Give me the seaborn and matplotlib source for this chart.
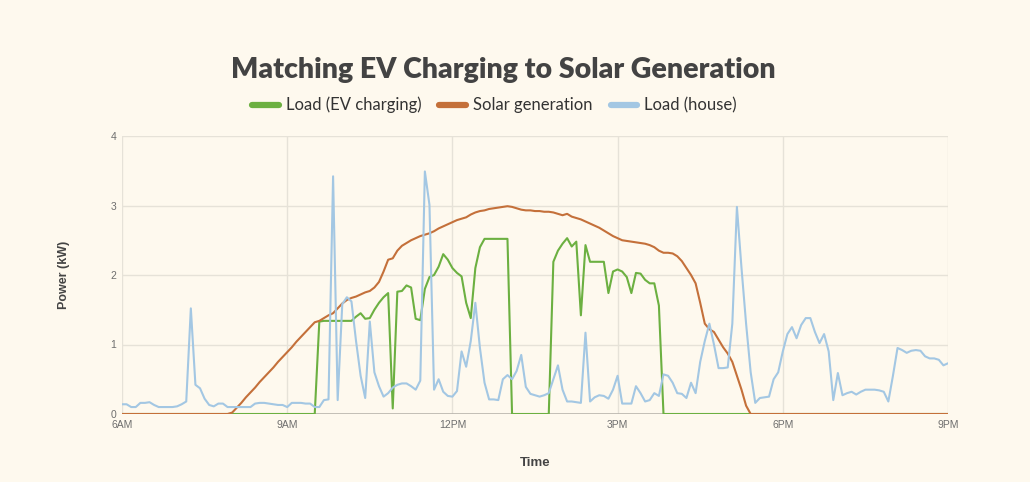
"""
EV charging vs solar generation - daily profile
"""
import numpy as np
import pandas as pd
import matplotlib
matplotlib.use('Agg')
import matplotlib.pyplot as plt
import seaborn as sns
from matplotlib.lines import Line2D

# readings every 5 minutes, 6AM -> 9PM (181 points)
hours = 6 + np.arange(181) * 5 / 60

# Load (EV charging), kW - one row per hour
ev_load = (
    [0.0] * 12                                                                   # 6AM
    + [0.0] * 12                                                                 # 7AM
    + [0.0] * 12                                                                 # 8AM
    + [0, 0, 0, 0, 0, 0, 0, 1.33, 1.34, 1.34, 1.34, 1.34]                         # 9AM
    + [1.34, 1.34, 1.34, 1.40, 1.45, 1.37, 1.38, 1.50, 1.60, 1.68, 1.74, 0.08]    # 10AM
    + [1.76, 1.77, 1.85, 1.82, 1.37, 1.35, 1.80, 1.97, 2.00, 2.12, 2.30, 2.22]    # 11AM
    + [2.10, 2.03, 1.98, 1.60, 1.38, 2.10, 2.40, 2.52, 2.52, 2.52, 2.52, 2.52]    # 12PM
    + [2.52, 0, 0, 0, 0, 0, 0, 0, 0, 0, 2.19, 2.35]                               # 1PM
    + [2.45, 2.53, 2.41, 2.48, 1.42, 2.43, 2.19, 2.19, 2.19, 2.19, 1.74, 2.05]    # 2PM
    + [2.08, 2.05, 1.97, 1.74, 2.03, 2.02, 1.93, 1.88, 1.88, 1.56, 0, 0]          # 3PM
    + [0.0] * 12                                                                 # 4PM
    + [0.0] * 12                                                                 # 5PM
    + [0.0] * 12                                                                 # 6PM
    + [0.0] * 12                                                                 # 7PM
    + [0.0] * 12                                                                 # 8PM
    + [0.0]                                                                      # 9PM
)

# Solar generation, kW
solar = (
    [0.0] * 12
    + [0.0] * 12
    + [0.02, 0.09, 0.16, 0.24, 0.31, 0.38, 0.46, 0.53, 0.60, 0.67, 0.75, 0.82]
    + [0.89, 0.96, 1.04, 1.11, 1.18, 1.25, 1.32, 1.34, 1.38, 1.42, 1.45, 1.52]
    + [1.59, 1.64, 1.67, 1.69, 1.72, 1.75, 1.77, 1.82, 1.90, 2.05, 2.22, 2.24]
    + [2.35, 2.42, 2.46, 2.50, 2.53, 2.56, 2.58, 2.60, 2.63, 2.67, 2.70, 2.73]
    + [2.76, 2.79, 2.81, 2.83, 2.87, 2.90, 2.92, 2.93, 2.95, 2.96, 2.97, 2.98]
    + [2.99, 2.98, 2.96, 2.94, 2.93, 2.93, 2.92, 2.92, 2.91, 2.91, 2.90, 2.88]
    + [2.86, 2.88, 2.84, 2.82, 2.80, 2.77, 2.74, 2.71, 2.68, 2.64, 2.60, 2.56]
    + [2.53, 2.50, 2.49, 2.48, 2.47, 2.46, 2.45, 2.43, 2.40, 2.35, 2.32, 2.32]
    + [2.31, 2.27, 2.20, 2.10, 2.00, 1.88, 1.60, 1.30, 1.22, 1.18, 1.07, 0.96]
    + [0.87, 0.75, 0.55, 0.35, 0.12, 0, 0, 0, 0, 0, 0, 0]
    + [0.0] * 12
    + [0.0] * 12
    + [0.0] * 12
    + [0.0]
)

# Load (house), kW
house_load = (
    [0.14, 0.14, 0.10, 0.10, 0.16, 0.16, 0.17, 0.13, 0.10, 0.10, 0.10, 0.10]
    + [0.11, 0.14, 0.18, 1.52, 0.42, 0.37, 0.22, 0.13, 0.11, 0.15, 0.15, 0.10]
    + [0.10, 0.10, 0.10, 0.10, 0.10, 0.15, 0.16, 0.16, 0.15, 0.14, 0.13, 0.13]
    + [0.10, 0.16, 0.16, 0.16, 0.15, 0.15, 0.10, 0.10, 0.20, 0.21, 3.42, 0.20]
    + [1.58, 1.68, 1.62, 1.05, 0.55, 0.23, 1.33, 0.60, 0.40, 0.25, 0.30, 0.38]
    + [0.42, 0.44, 0.44, 0.40, 0.35, 0.48, 3.49, 3.01, 0.35, 0.50, 0.32, 0.26]
    + [0.25, 0.33, 0.90, 0.68, 1.05, 1.60, 0.95, 0.45, 0.21, 0.21, 0.20, 0.50]
    + [0.56, 0.50, 0.62, 0.85, 0.39, 0.29, 0.27, 0.25, 0.27, 0.30, 0.50, 0.70]
    + [0.35, 0.18, 0.18, 0.17, 0.16, 1.17, 0.18, 0.24, 0.27, 0.26, 0.22, 0.35]
    + [0.55, 0.15, 0.15, 0.15, 0.40, 0.30, 0.18, 0.20, 0.30, 0.26, 0.57, 0.55]
    + [0.45, 0.30, 0.29, 0.23, 0.45, 0.30, 0.75, 1.05, 1.30, 1.00, 0.66, 0.66]
    + [0.67, 1.30, 2.98, 2.10, 1.30, 0.60, 0.16, 0.23, 0.24, 0.25, 0.50, 0.60]
    + [0.90, 1.15, 1.25, 1.09, 1.28, 1.38, 1.38, 1.18, 1.02, 1.15, 0.90, 0.20]
    + [0.59, 0.27, 0.30, 0.32, 0.28, 0.32, 0.35, 0.35, 0.35, 0.34, 0.32, 0.18]
    + [0.55, 0.95, 0.92, 0.88, 0.91, 0.92, 0.91, 0.83, 0.80, 0.80, 0.78, 0.70]
    + [0.73]
)

series_names = ['Load (EV charging)', 'Solar generation', 'Load (house)']
colors = {'Load (EV charging)': '#6cb041',
          'Solar generation': '#c4703a',
          'Load (house)': '#a3c7e3'}
tick_hours = [6, 9, 12, 15, 18, 21]
tick_labels = ['6AM', '9AM', '12PM', '3PM', '6PM', '9PM']

df = pd.DataFrame({'hour': hours,
                   'Load (EV charging)': ev_load,
                   'Solar generation': solar,
                   'Load (house)': house_load})
long_df = df.melt(id_vars='hour', var_name='series', value_name='kw')

bg = '#fef9ee'
sns.set_theme(style='white')
plt.rcParams['font.family'] = ['Lato', 'DejaVu Sans']

fig = plt.figure(figsize=(10.3, 4.82), dpi=100, facecolor=bg)
ax = fig.add_axes([122 / 1030, 1 - 414 / 482, 826 / 1030, 278 / 482])
ax.set_facecolor(bg)

# grid + baseline
for h in tick_hours:
    ax.axvline(h, color='#e6e2d8', lw=1.0, zorder=0)
for v in [1, 2, 3, 4]:
    ax.axhline(v, color='#e6e2d8', lw=1.0, zorder=0)
ax.axhline(0, color='#b9b5ad', lw=1.2, zorder=1)

sns.lineplot(data=long_df, x='hour', y='kw', hue='series', hue_order=series_names,
             palette=colors, linewidth=1.5, ax=ax, legend=False, zorder=3)

ax.set_xlim(6, 21)
ax.set_ylim(0, 4)
ax.set_xticks(tick_hours)
ax.set_xticklabels(tick_labels, fontfamily='Liberation Sans', fontsize=7.5, color='#6e6e6e')
ax.set_yticks([0, 1, 2, 3, 4])
ax.set_yticklabels(['0', '1', '2', '3', '4'], fontfamily='Liberation Sans', fontsize=7.5, color='#6e6e6e')
ax.tick_params(axis='both', length=0, pad=4)
for s in ax.spines.values():
    s.set_visible(False)

ax.set_xlabel('Time', fontfamily='Liberation Sans', fontsize=9.5, color='#444444', fontweight='bold')
ax.set_ylabel('Power (kW)', fontfamily='Liberation Sans', fontsize=9, color='#444444', fontweight='bold')
ax.xaxis.set_label_coords(0.5, -0.155)
ax.yaxis.set_label_coords(-0.063, 0.5)

fig.text(0.489, 0.855, 'Matching EV Charging to Solar Generation', ha='center', va='center',
         fontsize=20.5, fontweight='heavy', color='#434343')

handles = [Line2D([0], [0], color=colors[n], lw=4.5) for n in series_names]
leg = fig.legend(handles, series_names, loc='center', bbox_to_anchor=(0.48, 0.782), ncol=3,
                 frameon=False, fontsize=12, handlelength=1.6, handletextpad=0.4, columnspacing=1.1)
for t in leg.get_texts():
    t.set_color('#333333')

plt.savefig('out.png', dpi=100, facecolor=bg)
plt.close()
